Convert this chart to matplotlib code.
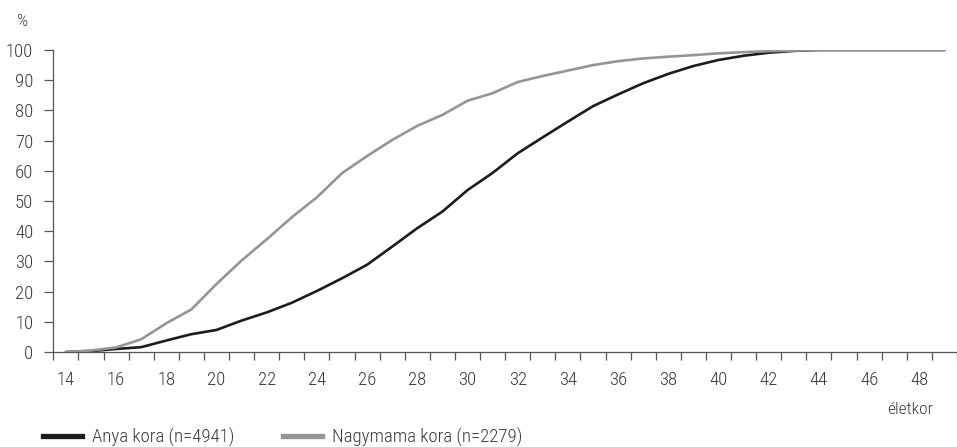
import matplotlib
matplotlib.use('Agg')
import matplotlib.pyplot as plt
from matplotlib.lines import Line2D

ages = list(range(14, 50))

# kumulált megoszlás, %
anya = [0, 0.3, 1.0, 1.6, 3.8, 5.9, 7.3, 10.4, 13.1, 16.3, 20.2, 24.4, 28.9, 34.9,
        41.0, 46.5, 53.6, 59.3, 65.8, 71.1, 76.3, 81.4, 85.3, 89.0, 92.1, 94.7,
        96.7, 98.1, 99.1, 99.7, 100, 100, 100, 100, 100, 100]
nagymama = [0, 0.5, 1.5, 4.2, 9.5, 14.1, 22.5, 30.3, 37.3, 44.6, 51.2, 59.2, 64.9,
            70.2, 74.9, 78.5, 83.2, 85.7, 89.4, 91.4, 93.2, 95.0, 96.3, 97.2, 97.8,
            98.3, 98.9, 99.3, 99.6, 99.8, 100, 100, 100, 100, 100, 100]

series_labels = ['Anya kora (n=4941)', 'Nagymama kora (n=2279)']
colors = ['#1c1c1c', '#959595']

plt.rcParams['font.family'] = ['Roboto Condensed', 'Roboto', 'DejaVu Sans']
plt.rcParams['font.weight'] = 'light'
text_color = '#3a3a3a'

fig = plt.figure(figsize=(9.57, 4.47), dpi=100)
ax = fig.add_axes([53.3 / 957, 1 - 352 / 447, 1 - 53.3 / 957, 302 / 447])

ax.plot(ages, anya, color=colors[0], lw=1.9, solid_capstyle='round', zorder=2)
ax.plot(ages, nagymama, color=colors[1], lw=1.9, solid_capstyle='round', zorder=3)

ax.set_xlim(13.5, 49.5)
ax.set_ylim(0, 100)

ax.set_yticks(range(0, 101, 10))
ax.set_xticks([a - 0.5 for a in ages] + [49.5])
ax.set_xticklabels([])
ax.set_xticks(ages[::2], minor=True)
ax.set_xticklabels([str(a) for a in ages[::2]], minor=True)

for s in ['top', 'right']:
    ax.spines[s].set_visible(False)
for s in ['left', 'bottom']:
    ax.spines[s].set_color('#555555')
    ax.spines[s].set_linewidth(0.9)

ax.tick_params(axis='y', direction='out', length=6.5, width=0.9, color='#555555',
               pad=8, labelsize=13.5, labelcolor=text_color)
ax.tick_params(axis='x', which='major', direction='out', length=6, width=0.9,
               color='#555555')
ax.tick_params(axis='x', which='minor', length=0, pad=14, labelsize=13.5,
               labelcolor=text_color)

fig.text(22.7 / 957, 1 - 22 / 447, '%', ha='center', va='center', fontsize=12.5,
         color=text_color)
fig.text(933 / 957, 1 - 410 / 447, 'életkor', ha='right', va='center', fontsize=12.5,
         color=text_color)

handles = [Line2D([], [], color=c, lw=3.8) for c in colors]
fig.legend(handles, series_labels, loc='center left', bbox_to_anchor=(43 / 957, 9.5 / 447),
           ncol=2, frameon=False, borderpad=0, borderaxespad=0, handlelength=2.1,
           handletextpad=0.5, columnspacing=2.6, fontsize=13.5, labelcolor=text_color)

fig.savefig('out.png', dpi=100)
